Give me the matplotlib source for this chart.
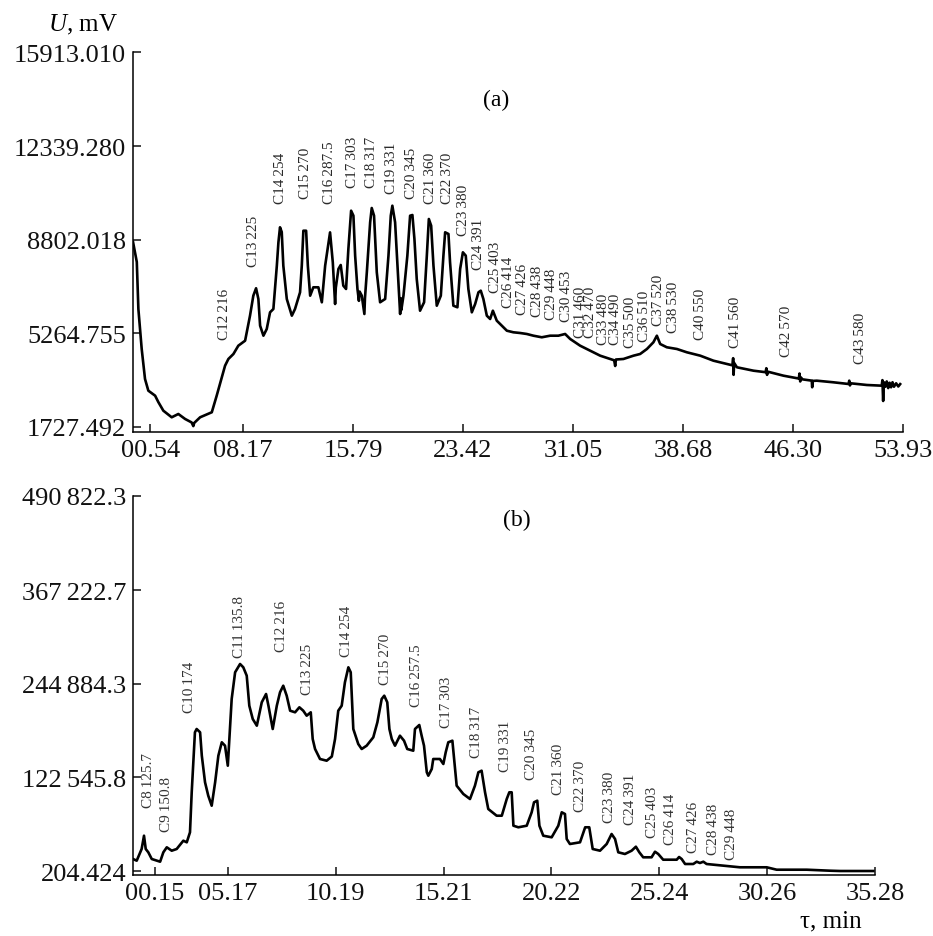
import matplotlib
matplotlib.use("Agg")
import matplotlib.pyplot as plt

# шрифт как в журнале (Times-подобный)
plt.rcParams['font.family'] = ['Liberation Serif', 'DejaVu Serif']
plt.rcParams['mathtext.fontset'] = 'custom'
plt.rcParams['mathtext.rm'] = 'Liberation Serif'
plt.rcParams['mathtext.it'] = 'Liberation Serif:italic'

# ---------- (a) хроматограмма, U в mV ----------
time_a = [0.54, 0.80, 0.91, 1.14, 1.37, 1.60, 2.07, 2.29, 2.64, 3.22, 3.68, 4.15,
          4.60, 4.72, 4.78, 5.19, 6.00, 6.34, 6.92, 7.15, 7.50, 7.84, 8.31, 8.65,
          8.88, 9.07, 9.23, 9.35, 9.58, 9.81, 10.04, 10.27, 10.51, 10.62, 10.73,
          10.85, 10.96, 11.20, 11.55, 11.77, 12.12, 12.24, 12.35, 12.54, 12.66,
          12.82, 13.04, 13.39, 13.63, 13.86, 14.20, 14.39, 14.50, 14.55, 14.60,
          14.78, 14.94, 15.12, 15.31, 15.47, 15.66, 15.82, 15.94, 16.10, 16.20,
          16.25, 16.40, 16.50, 16.58, 16.62, 16.75, 16.98, 17.09, 17.25, 17.44,
          17.67, 18.02, 18.25, 18.41, 18.52, 18.71, 18.90, 19.06, 19.10, 19.14,
          19.29, 19.56, 19.75, 19.91, 20.05, 20.21, 20.44, 20.72, 20.91, 21.05,
          21.21, 21.37, 21.60, 21.88, 22.06, 22.18, 22.41, 22.52, 22.75, 23.03,
          23.22, 23.41, 23.61, 23.79, 24.03, 24.26, 24.49, 24.65, 24.83, 25.07,
          25.30, 25.49, 25.76, 26.11, 26.46, 26.91, 27.38, 27.84, 28.30, 28.88,
          29.46, 30.03, 30.50, 30.85, 31.54, 32.23, 32.93, 33.62, 33.90, 33.97,
          34.02, 34.54, 35.24, 35.70, 36.17, 36.62, 36.86, 37.09, 37.55, 38.25,
          38.94, 39.87, 40.78, 41.71, 42.10, 42.15, 42.18, 42.22, 42.41, 43.56,
          44.40, 44.45, 44.50, 44.55, 45.64, 46.70, 46.75, 46.80, 46.85, 46.95,
          47.60, 47.63, 47.66, 47.95, 49.10, 50.15, 50.20, 50.25, 50.30, 51.42,
          52.45, 52.50, 52.55, 52.60, 52.70, 52.80, 52.90, 53.00, 53.10, 53.20,
          53.30, 53.45, 53.60, 53.73]
signal_a = [8726, 7970, 6191, 4678, 3543, 3101, 2912, 2673, 2344, 2094, 2219, 2030,
            1900, 1760, 1880, 2094, 2284, 2912, 4046, 4300, 4489, 4803, 4992, 5938,
            6695, 6975, 6570, 5560, 5181, 5435, 6066, 6191, 7830, 8715, 9282,
            9104, 7830, 6570, 5938, 6191, 6823, 7830, 9153, 9153, 7830,
            6695, 7012, 7012, 6445, 7830, 9090, 7958, 6900, 6380, 7000,
            7705, 7856, 7073, 6948, 8461, 9910, 9721, 8208, 6948, 6500,
            6850, 6695, 6300, 6002, 6600, 7580, 9471, 10012, 9721, 7580,
            6445, 6570, 8208, 9721, 10099, 9471, 7580, 6002, 6600, 6150,
            6695, 8208, 9721, 9747, 8840, 7326, 6127, 6445, 8208, 9596,
            9343, 7830, 6316, 6695, 8208, 9093, 9029, 7958, 6316, 6256,
            7705, 8336, 8208, 6948, 6066, 6380, 6823, 6884, 6570, 5938,
            5813, 6127, 5749, 5560, 5370, 5310, 5283, 5246, 5181, 5121,
            5181, 5181, 5246, 5057, 4803, 4614, 4425, 4300, 4250, 4035,
            4280, 4300, 4425, 4489, 4678, 4932, 5181, 4867, 4743, 4678,
            4553, 4425, 4236, 4111, 4060, 4330, 3700, 4150, 3986, 3857,
            3800, 3950, 3700, 3820, 3668, 3560, 3750, 3450, 3600, 3530,
            3480, 3230, 3470, 3479, 3418, 3354, 3480, 3300, 3380, 3316,
            3290, 3500, 2711, 3420, 3250, 3450, 3200, 3400, 3230, 3420,
            3250, 3380, 3260, 3350]

peaks_a = ["C12\u2009216", "C13\u2009225", "C14\u2009254", "C15\u2009270", "C16\u2009287.5",
           "C17\u2009303", "C18\u2009317", "C19\u2009331", "C20\u2009345", "C21\u2009360",
           "C22\u2009370", "C23\u2009380", "C24\u2009391", "C25\u2009403", "C26\u2009414",
           "C27\u2009426", "C28\u2009438", "C29\u2009448", "C30\u2009453", "C31\u2009460",
           "C32\u2009470", "C33\u2009480", "C34\u2009490", "C35\u2009500", "C36\u2009510",
           "C37\u2009520", "C38\u2009530", "C40\u2009550", "C41\u2009560", "C42\u2009570",
           "C43\u2009580"]
peak_time_a = [6.87, 8.88, 10.73, 12.47, 14.13, 15.75, 17.04, 18.48, 19.87, 21.14,
               22.34, 23.45, 24.49, 25.64, 26.57, 27.56, 28.58, 29.58, 30.62, 31.54,
               32.28, 33.16, 34.02, 35.06, 35.98, 36.97, 38.01, 39.91, 42.34, 45.87,
               51.01]
peak_level_a = [5057, 7830, 10201, 10390, 10190, 10795, 10795, 10580, 10390, 10201,
                10201, 8991, 7705, 6823, 6267, 6002, 5938, 5813, 5749, 5121,
                5121, 4867, 4867, 4743, 4992, 5586, 5310, 5057, 4743, 4425,
                4149]

xticks_a = [1.72, 8.17, 15.79, 23.42, 31.05, 38.68, 46.30, 53.93]
xticklabels_a = ["00.54", "08.17", "15.79", "23.42", "31.05", "38.68", "46.30", "53.93"]
yticks_a = [1727.492, 5264.755, 8802.018, 12339.280, 15913.010]
yticklabels_a = ["1727.492", "5264.755", "8802.018", "12339.280", "15913.010"]

# ---------- (b) ----------
time_b = [0.75, 0.92, 1.15, 1.26, 1.34, 1.46, 1.62, 2.01, 2.16, 2.32, 2.55, 2.78,
          3.09, 3.25, 3.40, 3.48, 3.63, 3.71, 3.87, 3.95, 4.10, 4.25, 4.41, 4.57,
          4.72, 4.88, 5.03, 5.16, 5.23, 5.34, 5.50, 5.73, 5.88, 6.04, 6.16, 6.32,
          6.51, 6.74, 6.94, 7.05, 7.25, 7.44, 7.59, 7.74, 7.90, 8.06, 8.29, 8.49,
          8.67, 8.83, 9.02, 9.11, 9.22, 9.45, 9.76, 10.00, 10.15, 10.30, 10.46,
          10.61, 10.77, 10.88, 11.00, 11.23, 11.39, 11.62, 11.93, 12.12, 12.32,
          12.44, 12.58, 12.68, 12.79, 12.94, 13.17, 13.36, 13.51, 13.79, 13.87,
          14.07, 14.18, 14.29, 14.42, 14.49, 14.65, 14.72, 15.03, 15.19, 15.30,
          15.42, 15.61, 15.69, 15.81, 16.12, 16.43, 16.66, 16.82, 16.97, 17.13,
          17.28, 17.67, 17.91, 18.14, 18.26, 18.37, 18.45, 18.68, 19.07, 19.30,
          19.41, 19.56, 19.66, 19.84, 20.23, 20.54, 20.70, 20.85, 20.93, 21.08,
          21.55, 21.79, 21.98, 22.14, 22.48, 22.79, 23.02, 23.18, 23.33, 23.64,
          23.95, 24.15, 24.31, 24.49, 24.88, 25.04, 25.19, 25.42, 26.05, 26.16,
          26.28, 26.44, 26.82, 26.98, 27.13, 27.29, 27.44, 28.22, 28.99, 30.24,
          30.70, 32.10, 33.18, 33.65, 35.20]
signal_b = [15900, 13680, 28990, 46390, 28990, 24670, 15900, 12370, 24670, 31210,
            26760, 28990, 39850, 37750, 50840, 103170, 181670, 185980, 181670,
            151050, 116250, 98720, 85640, 116250, 151050, 168580, 164130, 137970,
            172900, 225230, 260160, 271020, 266700, 255720, 216470, 199070, 190300,
            220910, 231770, 216470, 185980, 216470, 234000, 242630, 229550, 209920,
            207830, 214370, 209920, 203380, 207830, 172900, 159820, 146730, 144510,
            150000, 172900, 209920, 216470, 247080, 266700, 260160, 185980, 166360,
            159820, 164130, 175120, 194750, 225230, 229550, 220910, 185980, 172900,
            164130, 177220, 170680, 159820, 157590, 185980, 191220, 177220, 164130,
            129330, 124890, 133650, 146730, 146730, 140190, 155500, 168580, 170680,
            146730, 111800, 100940, 94400, 111800, 129330, 131430, 103170, 81320,
            72550, 72550, 94400, 103170, 103170, 59470, 57380, 59470, 77000, 90080,
            92180, 59470, 46390, 44290, 59470, 77000, 74780, 42070, 35530, 37750,
            57380, 57380, 28990, 26760, 35530, 48610, 42070, 24670, 22450, 26760,
            32000, 24670, 18130, 18130, 25450, 22450, 14990, 14990, 18520, 15900,
            9360, 9360, 12370, 10670, 12370, 9360, 7140, 5050, 5050, 1905, 1905,
            600, 200, 200]

peaks_b = ["C8\u2009125.7", "C9\u2009150.8", "C10\u2009174", "C11\u2009135.8", "C12\u2009216",
           "C13\u2009225", "C14\u2009254", "C15\u2009270", "C16\u2009257.5", "C17\u2009303",
           "C18\u2009317", "C19\u2009331", "C20\u2009345", "C21\u2009360", "C22\u2009370",
           "C23\u2009380", "C24\u2009391", "C25\u2009403", "C26\u2009414", "C27\u2009426",
           "C28\u2009438", "C29\u2009448"]
peak_time_b = [1.46, 2.29, 3.40, 5.70, 7.64, 8.86, 10.69, 12.48, 13.95, 15.35, 16.74,
               18.06, 19.30, 20.54, 21.55, 22.94, 23.88, 24.93, 25.74, 26.82, 27.75,
               28.61]
peak_level_b = [83540, 52930, 207830, 279790, 288430, 231770, 281880, 244860, 216470,
                188210, 148960, 131430, 120570, 100940, 79100, 63920, 61700, 44290,
                35530, 24670, 22450, 15900]

xticks_b = [1.77, 5.17, 10.19, 15.21, 20.22, 25.24, 30.26, 35.28]
xticklabels_b = ["00.15", "05.17", "10.19", "15.21", "20.22", "25.24", "30.26", "35.28"]
yticks_b = [204.424, 122545.8, 244884.3, 367222.7, 490822.3]
yticklabels_b = ["204.424", "122\u2009545.8", "244\u2009884.3", "367\u2009222.7", "490\u2009822.3"]


def style_axis(ax, xt, xtl, yt, ytl):
    ax.spines['top'].set_visible(False)
    ax.spines['right'].set_visible(False)
    ax.spines['left'].set_linewidth(1.1)
    ax.spines['bottom'].set_linewidth(1.1)
    ax.set_xticks(xt)
    ax.set_xticklabels(xtl)
    ax.set_yticks(yt)
    ax.set_yticklabels(ytl)
    ax.tick_params(direction='in', length=6, width=1.1, labelsize=19, colors='#111111')
    ax.tick_params(axis='y', pad=5)
    ax.tick_params(axis='x', pad=5)


fig = plt.figure(figsize=(9.33, 9.37), dpi=100)

ax1 = fig.add_axes([0.1426, 0.5379, 0.8253, 0.4055])
ax1.plot(time_a, signal_a, color='black', lw=1.9)
ax1.set_xlim(0.54, 53.93)
ax1.set_ylim(1538, 15913.01)
style_axis(ax1, xticks_a, xticklabels_a, yticks_a, yticklabels_a)
for name, t, v in zip(peaks_a, peak_time_a, peak_level_a):
    ax1.text(t, v, name, rotation=90, ha='center', va='bottom', fontsize=11, color='#2a2a2a')
ax1.text(0.471, 0.876, "(a)", transform=ax1.transAxes, ha='center', va='center', fontsize=17)

ax2 = fig.add_axes([0.1426, 0.0651, 0.7953, 0.4045])
ax2.plot(time_b, signal_b, color='black', lw=1.9)
ax2.set_xlim(0.75, 35.28)
ax2.set_ylim(-5029, 490822.3)
style_axis(ax2, xticks_b, xticklabels_b, yticks_b, yticklabels_b)
for name, t, v in zip(peaks_b, peak_time_b, peak_level_b):
    ax2.text(t, v, name, rotation=90, ha='center', va='bottom', fontsize=11, color='#333333')
ax2.text(0.5175, 0.939, "(b)", transform=ax2.transAxes, ha='center', va='center', fontsize=17)

# подписи осей
fig.text(0.1265, 0.973, "$U$, mV", ha='right', va='center', fontsize=18)
fig.text(0.891, 0.0165, "\u03c4, min", ha='center', va='center', fontsize=18)

plt.savefig("out.png", dpi=100)
